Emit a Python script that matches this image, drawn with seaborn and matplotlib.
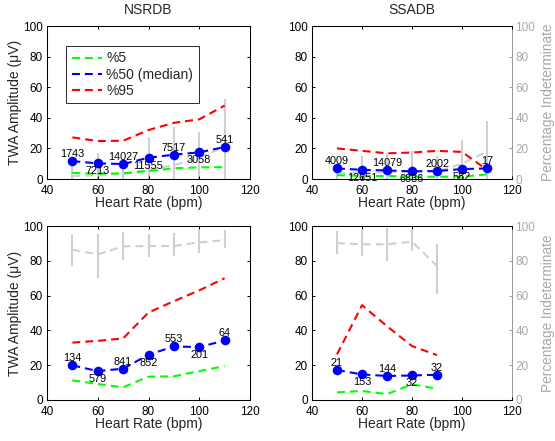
import numpy as np
import pandas as pd
import matplotlib
matplotlib.use("Agg")
import matplotlib.pyplot as plt
import seaborn as sns
from matplotlib.lines import Line2D

# ---------------- data ----------------
hr_full = [50, 60, 70, 80, 90, 100, 110]
hr_short = [50, 60, 70, 80, 90]

# NSRDB (top row)
nsr_top_p5 = [4.0, 3.5, 3.7, 5.2, 7.0, 7.6, 7.8]
nsr_top_p50 = [11.7, 10.2, 9.8, 13.9, 15.9, 17.4, 20.9]
nsr_top_p95 = [27.2, 24.8, 25.0, 32.0, 36.7, 39.0, 48.0]
nsr_top_ind = [2.0, 2.5, 3.5, 6.0, 9.0, 14.0, 21.0]
nsr_top_ind_lo = [0, 0, 0, 0, 0, 0, 0]
nsr_top_ind_hi = [12.0, 17.0, 11.0, 27.7, 34.0, 31.0, 52.0]
nsr_top_n = [1743, 7213, 14027, 11555, 7517, 3058, 541]

# SSADB (top row)
ss_top_p5 = [2.5, 2.0, 2.0, 1.5, 1.5, 1.5, 3.0]
ss_top_p50 = [6.9, 6.0, 5.6, 5.0, 5.2, 6.5, 6.9]
ss_top_p95 = [20.0, 18.4, 16.8, 17.3, 18.4, 17.7, 6.0]
ss_top_ind = [4.0, 4.0, 4.5, 5.0, 5.0, 10.0, 18.0]
ss_top_ind_lo = [0, 0, 0, 0, 0, 0, 0]
ss_top_ind_hi = [8.0, 15.0, 17.0, 18.0, 15.0, 25.5, 38.0]
ss_top_n = [4009, 12651, 14079, 6836, 2002, 582, 17]

# NSRDB (bottom row)
nsr_bot_p5 = [11.3, 9.2, 7.3, 13.4, 13.6, 16.6, 19.5]
nsr_bot_p50 = [19.9, 16.6, 18.0, 26.0, 30.8, 30.4, 34.2]
nsr_bot_p95 = [33.0, 34.0, 35.4, 50.3, 56.8, 63.0, 70.0]
nsr_bot_ind = [86.4, 83.7, 88.3, 88.5, 88.5, 90.6, 91.8]
nsr_bot_ind_lo = [77.0, 70.4, 80.3, 82.2, 82.8, 84.7, 87.6]
nsr_bot_ind_hi = [95.6, 95.6, 96.4, 95.2, 96.2, 97.5, 97.5]
nsr_bot_n = [134, 579, 841, 852, 553, 201, 64]

# SSADB (bottom row)
ss_bot_p5 = [4.4, 5.2, 3.4, 9.0, 6.5]
ss_bot_p50 = [17.2, 14.7, 13.8, 14.1, 14.5]
ss_bot_p95 = [26.2, 54.5, 42.4, 31.0, 25.8]
ss_bot_ind = [90.2, 89.5, 89.5, 91.0, 77.0]
ss_bot_ind_lo = [84.1, 82.6, 80.0, 85.7, 61.2]
ss_bot_ind_hi = [97.1, 97.5, 99.0, 97.9, 89.5]
ss_bot_n = [21, 153, 144, 32, 32]

series_names = ["%5", "%50 (median)", "%95"]
series_colors = {"%5": (0, 1, 0), "%50 (median)": (0, 0, 1), "%95": (1, 0, 0)}
titles = ["NSRDB", "SSADB"]

# ---------------- style ----------------
sns.set_theme(style="white")
plt.rcParams["font.family"] = ["Liberation Sans", "DejaVu Sans"]
plt.rcParams["axes.linewidth"] = 0.75
plt.rcParams["xtick.direction"] = "in"
plt.rcParams["ytick.direction"] = "in"

GRAY_MARK = "#cfcfcf"
GRAY_TEXT = "#a8a8a8"
GRAY_SPINE = "#9a9a9a"
DASH = (0, (3.8, 2.4))
LW = 1.5

fig = plt.figure(figsize=(5.55, 4.41), dpi=100)
W, H = 555.0, 441.0
rects = {
    (0, 0): (47, 26, 250, 179),
    (0, 1): (312, 26, 512, 179),
    (1, 0): (47, 226, 250, 400),
    (1, 1): (312, 226, 512, 400),
}

panels = {
    (0, 0): (hr_full, nsr_top_p5, nsr_top_p50, nsr_top_p95, nsr_top_ind, nsr_top_ind_lo, nsr_top_ind_hi, nsr_top_n),
    (0, 1): (hr_full, ss_top_p5, ss_top_p50, ss_top_p95, ss_top_ind, ss_top_ind_lo, ss_top_ind_hi, ss_top_n),
    (1, 0): (hr_full, nsr_bot_p5, nsr_bot_p50, nsr_bot_p95, nsr_bot_ind, nsr_bot_ind_lo, nsr_bot_ind_hi, nsr_bot_n),
    (1, 1): (hr_short, ss_bot_p5, ss_bot_p50, ss_bot_p95, ss_bot_ind, ss_bot_ind_lo, ss_bot_ind_hi, ss_bot_n),
}

for (r, c), (x0, y0, x1, y1) in rects.items():
    ax = fig.add_axes([x0 / W, 1 - y1 / H, (x1 - x0) / W, (y1 - y0) / H])
    ax2 = ax.twinx()
    hr, p5, p50, p95, ind, lo, hi, n = panels[(r, c)]

    # percentage indeterminate (right axis)
    ind_a = np.array(ind)
    yerr = [ind_a - np.array(lo), np.array(hi) - ind_a]
    ax2.errorbar(hr, ind, yerr=yerr, fmt="none", ecolor=GRAY_MARK, elinewidth=LW, capsize=0)
    sns.lineplot(x=hr, y=ind, ax=ax2, color=GRAY_MARK, lw=LW, linestyle=DASH)

    # percentiles (left axis)
    df = pd.DataFrame({
        "hr": list(hr) * 3,
        "value": list(p5) + list(p50) + list(p95),
        "series": [s for s in series_names for _ in hr],
    })
    sns.lineplot(data=df, x="hr", y="value", hue="series", hue_order=series_names,
                 palette=series_colors, ax=ax, legend=False, lw=LW, linestyle=DASH)
    sns.scatterplot(x=hr, y=p50, ax=ax, color=(0, 0, 1), s=48, linewidth=0, zorder=4)

    for i, (xv, yv, nv) in enumerate(zip(hr, p50, n)):
        if i % 2 == 0:
            ax.annotate(str(nv), (xv, yv), xytext=(0, 1.5), textcoords="offset points",
                        ha="center", va="bottom", fontsize=7.8, color="black", zorder=6)
        else:
            ax.annotate(str(nv), (xv, yv), xytext=(0, -2.0), textcoords="offset points",
                        ha="center", va="top", fontsize=7.8, color="black", zorder=6)

    ax.set_zorder(ax2.get_zorder() + 1)
    ax.patch.set_visible(False)

    for a in (ax, ax2):
        a.set_xlim(40, 120)
        a.set_ylim(0, 100)
        a.set_yticks([0, 20, 40, 60, 80, 100])
    ax.set_xticks([40, 60, 80, 100, 120])
    ax.tick_params(axis="x", top=True, bottom=True, length=2.5, width=0.75, color="black",
                   labelsize=8.5, pad=4, labelcolor="black")
    ax.tick_params(axis="y", left=True, right=(c == 0), length=2.5, width=0.75, color="black",
                   labelsize=8.5, pad=3, labelcolor="black")
    for s in ax.spines.values():
        s.set_color("black")
        s.set_linewidth(0.75)
    for s in ("left", "top", "bottom"):
        ax2.spines[s].set_visible(False)

    if c == 1:
        ax.spines["right"].set_visible(False)
        ax2.spines["right"].set_color(GRAY_SPINE)
        ax2.spines["right"].set_linewidth(0.75)
        ax2.tick_params(axis="y", right=True, left=False, length=2.5, width=0.75,
                        color=GRAY_SPINE, labelsize=8.5, pad=2.5, labelcolor=GRAY_TEXT)
        ax2.set_ylabel("Percentage Indeterminate", color=GRAY_TEXT, fontsize=9.8)
        ax2.yaxis.set_label_coords(1.145, 0.5)
    else:
        ax2.spines["right"].set_visible(False)
        ax2.tick_params(axis="y", right=False, left=False, labelright=False, labelleft=False)
        ax2.set_ylabel("")
    ax2.set_xlabel("")

    ax.set_xlabel("Heart Rate (bpm)", fontsize=10)
    ax.xaxis.set_label_coords(0.5, -0.111 if r == 0 else -0.095)
    if c == 0:
        ax.set_ylabel("TWA Amplitude (\u03bcV)", fontsize=10)
        ax.yaxis.set_label_coords(-0.125, 0.5)
    else:
        ax.set_ylabel("")

    if r == 0:
        ax.set_title(titles[c], fontsize=10, pad=8.5)

    if (r, c) == (0, 0):
        handles = [Line2D([0], [0], color=series_colors[s], lw=LW, linestyle=DASH) for s in series_names]
        leg = ax.legend(handles, series_names, loc="upper left", bbox_to_anchor=(0.094, 0.87),
                        borderaxespad=0, frameon=True, fancybox=False, fontsize=10,
                        handlelength=2.2, handletextpad=0.3, labelspacing=0.15, borderpad=0.4)
        leg.get_frame().set_edgecolor("black")
        leg.get_frame().set_linewidth(0.75)
        leg.set_zorder(10)

fig.savefig("out.png", dpi=100)
